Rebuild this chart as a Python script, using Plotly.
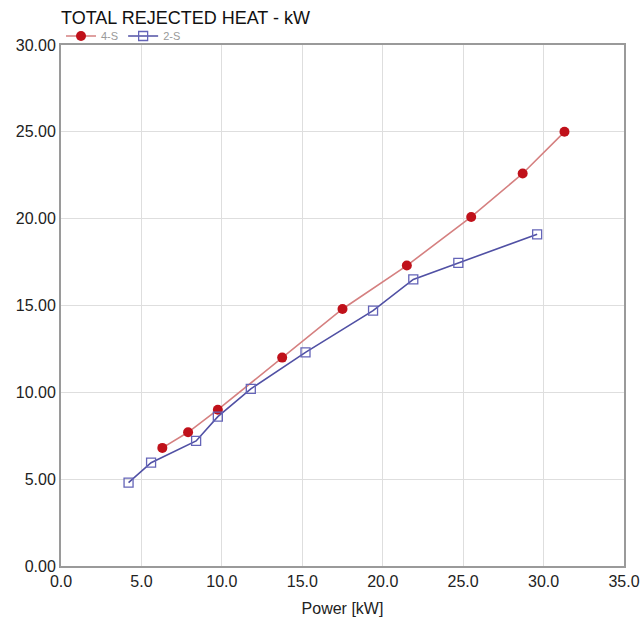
import plotly.graph_objects as go

power_4s = [6.3, 7.9, 9.75, 13.75, 17.5, 21.5, 25.5, 28.7, 31.3]
heat_4s = [6.8, 7.7, 9.0, 12.0, 14.8, 17.3, 20.1, 22.6, 25.0]

power_2s = [4.2, 5.6, 8.4, 9.75, 11.8, 15.2, 19.4, 21.9, 24.7, 29.6]
heat_2s = [4.8, 5.95, 7.2, 8.6, 10.2, 12.3, 14.7, 16.5, 17.45, 19.1]

fig = go.Figure()
fig.add_trace(go.Scatter(
    x=power_4s, y=heat_4s, name="4-S", mode="lines+markers",
    line=dict(color="#d58080", width=1.6),
    marker=dict(symbol="circle", size=10, color="#c0111a", line=dict(width=0)),
))
fig.add_trace(go.Scatter(
    x=power_2s, y=heat_2s, name="2-S", mode="lines+markers",
    line=dict(color="#5050a4", width=1.6),
    marker=dict(symbol="square-open", size=9, color="#6464b8", line=dict(width=1.3)),
))

axis_common = dict(
    showline=True, linecolor="#9a9a9a", linewidth=2, mirror=True,
    showgrid=True, gridcolor="#dedede", gridwidth=1,
    zeroline=False, ticks="", automargin=False,
    tickfont=dict(family="Liberation Sans, Arial", size=16, color="#222222"),
)

fig.update_xaxes(range=[0, 35], dtick=5, tickformat=".1f",
                 title=dict(text="Power [kW]", font=dict(family="Liberation Sans, Arial", size=16, color="#222222"), standoff=14),
                 **axis_common)
fig.update_yaxes(range=[0, 30], dtick=5, tickformat=".2f", **axis_common)

fig.update_layout(
    width=644, height=623,
    margin=dict(l=61, r=20, t=45, b=57),
    paper_bgcolor="white", plot_bgcolor="white",
    title=dict(text="TOTAL REJECTED HEAT - kW", x=61/644, xanchor="left", y=1 - 18/623, yanchor="middle",
               font=dict(family="Liberation Sans, Arial", size=18, color="#111111")),
    legend=dict(orientation="h", x=0.0, xanchor="left", y=1 + 9/521, yanchor="middle",
                font=dict(family="Liberation Sans, Arial", size=11, color="#999999"),
                itemwidth=30, tracegroupgap=0, bgcolor="rgba(0,0,0,0)",
                borderwidth=0),
    showlegend=True,
)

fig.write_html("out.html", config={"displayModeBar": False},
               post_script="document.body.style.margin='0';document.body.style.overflow='hidden';")
